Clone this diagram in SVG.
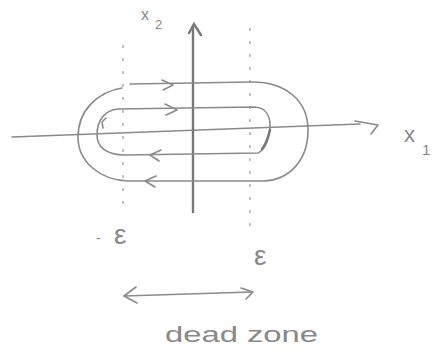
<svg xmlns="http://www.w3.org/2000/svg" width="434" height="350" viewBox="0 0 434 350">
<style>
.ln{fill:none;stroke:#8a8a8a;stroke-width:1.6;stroke-linecap:round;stroke-linejoin:round}
.dk{fill:none;stroke:#777;stroke-width:2.4;stroke-linecap:round}
.dash{fill:none;stroke:#a0a0a0;stroke-width:1.3;stroke-dasharray:3 10}
.t{font-family:"Liberation Sans",Arial,sans-serif;fill:#888}
</style>
<rect width="434" height="350" fill="#fff"/>
<g id="axes">
<path class="ln" d="M12,137 L360,124"/>
<path class="ln" d="M355,121 L378,125 L371,134"/>
<path class="dk" d="M193,212 L193,26"/>
<path class="dk" d="M189,33 L194,24 L201,35"/>
</g>
<g id="bounds">
<path class="dash" d="M123,45 L123,207"/>
<path class="dash" d="M250,28 L250,232"/>
</g>
<g id="connectors">
<path class="ln" d="M122,88 C98,92 78,110 78,137 C78,162 100,180 128,181 L263,181 C290,180 308,160 308,130 C308,100 285,82 252,82 L130,84"/>
<path class="ln" d="M118,109 L255,107 C265,108 270,115 270,125 C270,138 265,150 258,153 L125,155 C105,155 97,146 97,135 C97,120 105,110 118,109"/>
<path class="ln" d="M162,80 L173,85 L163,90"/>
<path class="ln" d="M165,104 L177,110 L166,115"/>
<path class="ln" d="M161,150 L150,155 L159,161"/>
<path class="ln" d="M156,176 L145,181 L155,187"/>
<path class="ln" d="M103,128 L102,122 L106,118"/>
<path class="dk" d="M270,130 C268,138 266,144 262,149"/>
<path class="ln" d="M124,296 L251,292"/>
<path class="ln" d="M136,287 L124,296 L137,303"/>
<path class="ln" d="M241,288 L253,292 L246,299"/>
</g>
<g id="labels">
<text class="t" x="141" y="20" font-size="16">x</text>
<text class="t" x="155" y="29" font-size="13">2</text>
<text class="t" x="404" y="142" font-size="22">x</text>
<text class="t" x="422" y="155" font-size="15">1</text>
<text class="t" x="96" y="243" font-size="14">-</text>
<text class="t" x="114" y="244" font-size="28">ε</text>
<text class="t" x="254" y="265" font-size="28">ε</text>
<text class="t" x="165" y="342" font-size="22" textLength="153" lengthAdjust="spacingAndGlyphs">dead zone</text>
</g>
</svg>
